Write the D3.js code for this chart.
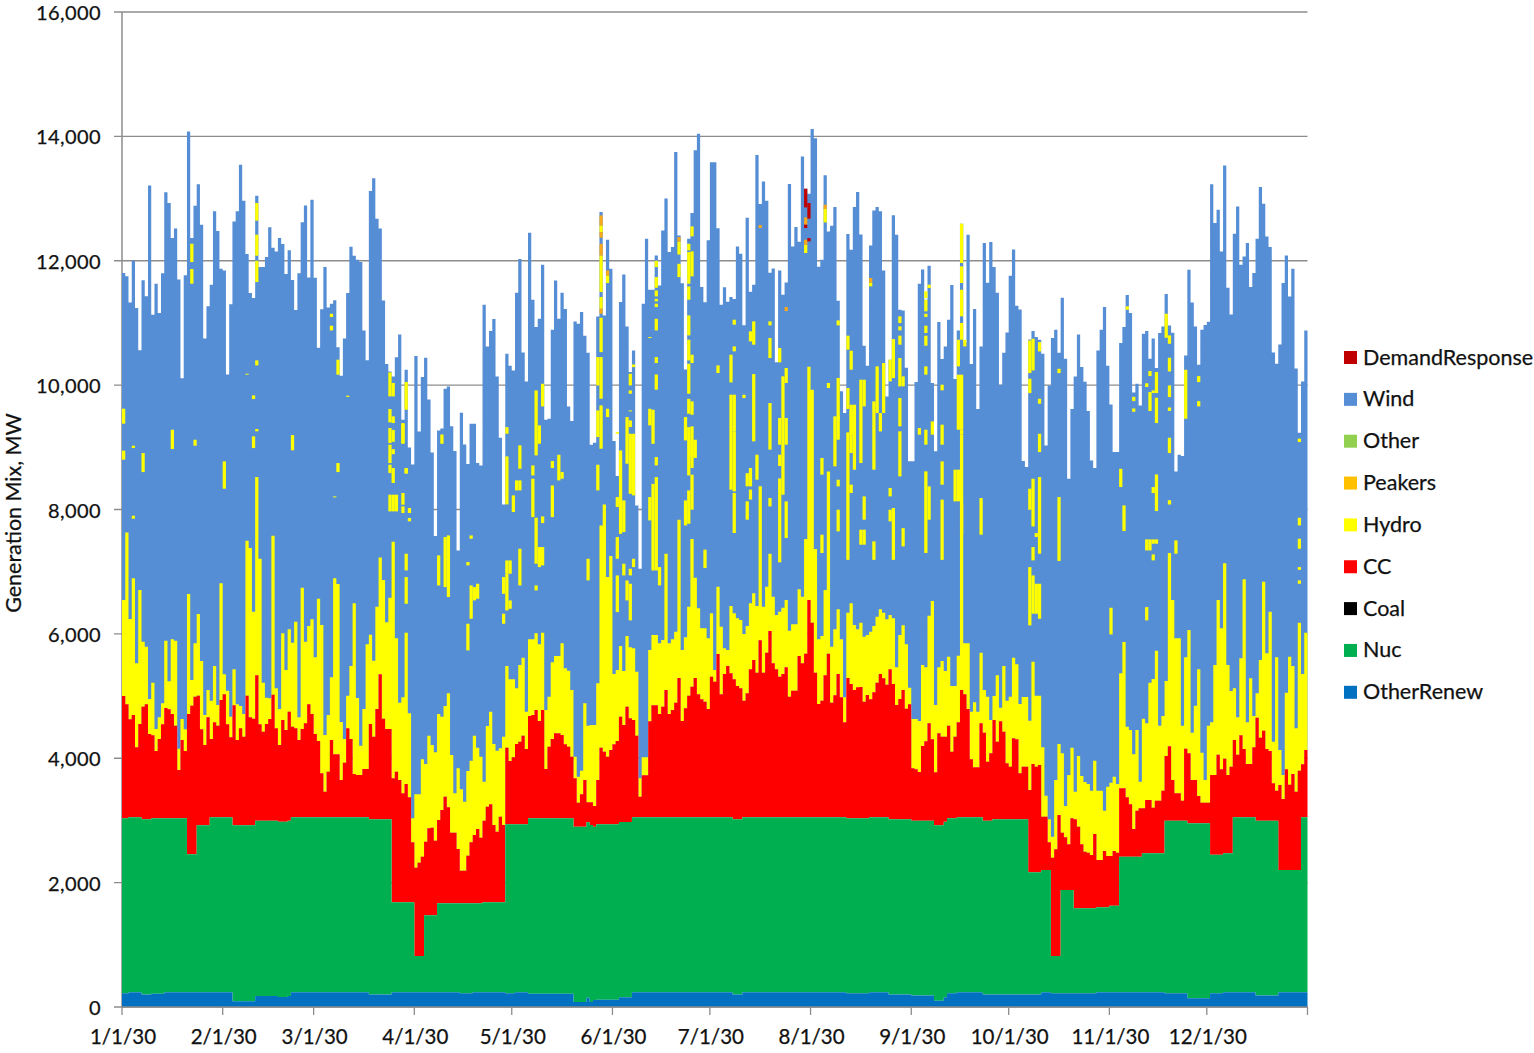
<!DOCTYPE html>
<html><head><meta charset="utf-8">
<script src="https://cdn.jsdelivr.net/npm/d3@7/dist/d3.min.js"></script>
<style>html,body{margin:0;padding:0;background:#fff}svg{display:block}text{font-family:Lato,"Open Sans",sans-serif;fill:#111;stroke:#111;stroke-width:.25px}</style>
</head><body><svg id="c" width="1534" height="1053"></svg>
<script>
const legendNames=["DemandResponse","Wind","Other","Peakers","Hydro","CC","Coal","Nuc","OtherRenew"];
const legendColors=["#C00000","#558ED5","#92D050","#FFC000","#FFFF00","#FF0000","#000000","#00B050","#0070C0"];
const monthTicks=["1/1/30","2/1/30","3/1/30","4/1/30","5/1/30","6/1/30","7/1/30","8/1/30","9/1/30","10/1/30","11/1/30","12/1/30"];
const yTicks=[0,2000,4000,6000,8000,10000,12000,14000,16000];

// Daily cumulative stack tops in MW. Runs: [first day, value]
const otherRenewRuns=[[0,220],[2,236],[6,200],[9,215],[13,236],[34,94],[41,178],[48,160],[51,178],[52,236],[76,200],[83,236],[104,220],[108,236],[118,220],[121,236],[125,215],[139,81],[143,150],[144,81],[145,113],[146,118],[153,156],[157,236],[188,200],[191,236],[223,220],[230,236],[236,200],[243,183],[250,102],[253,156],[254,220],[257,236],[265,200],[283,236],[286,220],[300,236],[321,220],[328,140],[335,220],[339,236],[349,183],[356,236]];
const nucRuns=[[0,3034],[2,3050],[6,3018],[9,3034],[20,2455],[23,2921],[27,3050],[34,2921],[41,2996],[48,2980],[51,2996],[52,3050],[76,3018],[83,1683],[90,820],[93,1474],[97,1667],[111,1683],[118,2938],[125,3034],[139,2900],[143,2970],[144,2927],[145,2900],[146,2938],[153,2975],[157,3050],[188,3018],[191,3050],[223,3034],[230,3050],[236,3018],[243,2996],[250,2921],[253,2980],[254,3034],[257,3050],[265,2996],[268,3018],[279,2166],[283,2203],[286,820],[289,1882],[293,1587],[300,1603],[304,1630],[307,2418],[314,2471],[321,2996],[328,2954],[335,2450],[339,2471],[342,3050],[349,2996],[356,2203],[363,3050]];
const ccTop=[5001,4867,4626,4696,4176,4551,4830,4867,4390,4369,4117,4310,4546,4808,4787,4712,4524,3811,4294,4117,4712,4846,4990,5006,4465,4213,4658,4310,4578,4524,4937,5028,4546,4336,4851,4294,4481,4347,5006,4658,4637,5333,4546,4428,4551,4631,5023,4481,4213,4615,4454,4749,4508,4481,4294,4470,4562,4867,4712,4390,4278,3758,3463,3784,4294,4063,4063,3650,3929,4481,4310,3747,3731,3731,3827,3827,4551,4347,4792,5349,4637,4470,4470,3677,3784,3650,3436,3586,3372,
2648,2241,2321,2418,2659,2873,2884,2675,3007,3168,3382,3211,2804,2804,2541,2192,2192,2434,2648,2766,2863,2723,2996,3222,3259,2927,2820,3061,2927,4170,3956,4015,4229,4267,4363,4149,4680,4696,4776,4599,4776,3827,4186,4310,4401,4401,4374,4224,4186,4026,3677,3286,3420,3650,3291,3291,3232,3650,4170,4106,4026,4133,4224,4278,4669,4535,4830,4642,4615,4363,3382,3725,3725,4594,4851,4851,4712,4830,5098,4712,4776,4894,5291,4599,4803,5006,5151,5291,5028,
4948,4910,4792,5312,5232,5676,5028,5355,5484,5366,5269,5162,5124,4926,5044,5430,5580,5376,5896,5376,5698,6046,5526,5430,5312,5355,5462,4990,5087,5087,5644,5526,5682,6545,6180,5376,4872,4926,5333,5682,4894,5012,5355,4980,4578,5291,5194,5098,5140,5146,4910,5017,4948,5060,5216,5355,5285,5183,5430,5194,4856,4953,5098,4797,4867,3838,3822,3779,4197,4272,4562,4304,3774,4401,4347,4347,4524,4106,4347,4578,5098,5028,4792,3983,3854,3854,4562,4412,3945,
4079,4615,4267,4594,4428,3918,3865,4320,4304,3758,3865,3865,3490,3908,3865,3892,3061,3061,2648,2402,2536,3088,2804,2728,2616,3034,3018,2900,2616,2498,2482,2444,2782,2364,2364,2509,2428,2428,2509,2482,3516,3516,3372,3259,2862,3157,3195,3195,3329,3329,3206,3318,3318,3479,4036,4192,3650,3436,3436,3318,4154,4079,3650,3650,3393,3286,3286,3286,3731,3731,4058,3822,3993,3731,3865,4294,4058,4369,4149,3908,3908,4176,4653,4331,4444,4149,4117,3597,3479,3570,3345,3822,3575,3747,3463,3800,3902,4133];
const hydroTop=[6545,7632,6239,6893,5526,6706,5875,5794,4953,5216,4470,4658,4883,5891,5237,5912,5891,4154,4631,4465,6641,5258,5848,6320,5564,4696,5098,4926,5484,4856,6813,5349,5087,4669,5430,4867,4840,4712,7498,7380,6357,8522,7209,5216,4974,4964,7579,5124,4792,6009,5419,6073,5859,6196,4658,6743,5875,6127,6234,5623,6566,6143,4374,4696,5301,6893,6802,4583,4310,5006,5484,6491,4969,4202,4792,5832,5987,5569,6438,7230,6866,6186,6582,7480,5928,4894,4980,6020,4722,
3034,3420,3420,3983,3908,4363,4213,4095,4712,4669,4840,5044,4052,3436,3838,3500,3302,3795,3961,4363,4170,4026,3624,4519,4749,4229,4122,4160,4347,5484,5269,5269,5124,5500,5618,4749,5912,5912,6009,5832,6020,4776,4990,5542,5644,5644,5848,5446,5408,5098,4026,3704,3800,4883,4524,4535,4535,5205,7744,8082,6913,7251,5355,5419,5805,5403,5966,5784,5768,5392,3677,4015,4015,5741,5982,5982,5848,5902,7288,5848,5912,6036,7835,5741,5944,6438,7525,6904,6411,
6089,6089,5928,6330,5419,6759,6116,5768,5741,6448,6330,6250,6223,5998,6127,6491,6652,6448,8372,6438,6759,7289,6598,6304,6357,6422,6545,6052,6153,6153,6716,6598,7525,10296,9926,7364,5912,5966,6706,8613,5794,6073,6395,5912,4980,6341,6491,6143,6073,6180,5955,5982,6036,6127,6277,6395,6341,6234,6304,6250,5462,5982,6137,5832,5135,4631,4631,4599,5500,5462,6293,6529,4856,5462,5564,5403,5634,5162,5162,5650,9203,5848,5848,4749,4899,4749,5698,5098,4990,
4615,5001,5333,4814,5484,4926,4990,5618,5510,4872,4985,4985,4604,5553,5006,5006,4176,3398,3018,2739,3650,4229,4079,3232,3731,4170,3463,4036,3715,3618,3586,3479,3961,3479,3479,3157,3543,3608,3704,3586,5366,5869,4508,4454,4063,4454,3624,4637,4562,5216,5274,5730,4524,4680,5242,7299,6545,5928,5928,4524,5623,6062,4412,4846,5430,4090,3650,4524,4578,5500,6545,6089,7134,5500,5082,5124,4658,5607,6877,4578,5285,4680,5044,5580,6840,5687,6357,4267,5623,4133,3731,5055,5634,5484,4481,6180,5355,6020];
const totalTop=[11802,11750,11330,12000,11240,10560,11685,11430,13210,11130,11630,11160,11800,13100,12930,12365,12520,11700,10110,11765,14080,12365,12885,13230,12580,10750,11270,11615,12795,12480,11870,11845,10170,11300,12630,12795,13545,12965,12110,11480,11400,13045,11900,11900,12060,12540,12210,12150,12365,12270,11785,12170,11690,11210,11800,12620,12890,11730,12980,11725,10600,11220,11900,11250,11310,11365,10610,10150,10750,11480,12225,12080,12015,11980,10880,10400,13120,13325,12675,12520,11360,10340,10220,10140,10450,10815,
9443,10247,8998,8725,10467,9256,10130,10440,9770,8918,7573,9272,9304,9942,9979,9340,8940,7342,9556,9047,8730,9379,9379,8746,8709,11292,10622,10869,11062,10140,9154,8082,10505,10312,10237,11485,12027,10526,10060,12450,11373,10933,11067,11936,9443,9459,10890,11684,11067,11485,11223,9658,9422,11025,10987,11175,10794,10521,9041,9073,11105,12782,11121,12338,11871,9100,8537,11335,11780,10944,10210,10558,8066,7047,11309,12354,11534,11534,12086,11603,12488,13000,12140,12220,
13750,12407,11640,10250,12354,12767,13775,14043,11577,11331,12328,13582,13582,12521,11293,11572,11341,11416,11384,12231,12113,10961,12692,11502,11615,13700,12912,13276,12966,11808,11877,10366,11845,11454,11652,13234,12231,12542,12306,13678,13158,13078,14118,13968,11904,12017,13373,12472,12564,12864,11358,9900,9550,12430,12178,12864,13105,12424,10634,10312,12247,12810,12864,12794,11845,9819,10409,12730,12419,11213,11202,10280,8774,8774,10050,11631,11861,11374,11920,10034,8935,11015,10420,10623,11052,11609,10098,10880,12596,10688,12419,10339,11224,9615,
10622,12284,11646,12300,11898,11485,10006,10521,10848,11759,12182,11276,11217,8779,8682,10735,10869,10773,10730,10505,9031,9995,10756,10890,10521,11405,10424,8495,9615,10140,10815,10290,10054,9583,8789,8666,10558,10890,11255,10312,9690,8923,8923,10676,10933,11448,11158,9883,10022,9674,10826,10869,10424,10751,10274,10837,10944,11464,10960,10842,8612,8880,8859,10478,11855,11330,10944,10328,10890,10966,11019,13230,12606,12820,12150,13530,11566,11137,12434,12874,11936,12070,12284,11577,11802,12354,13185,12917,12391,12220,10526,10344,10655,11641,12086,11426,11871,10269,9234,10060,10880];

// Hours where hydro / peakers / demand response show above the wind: [day, upper MW, lower MW]
const hydroPatches=[[0,9621,9380],[0,8946,8801],[3,9026,8988],[3,7900,7852],[6,8908,8602],[15,9283,8972],[21,12274,11979],[21,11867,11631],[22,9122,9026],[31,8774,8334],[38,10184,10168],[40,9835,9776],[40,9176,8988],[41,12928,12644],[41,12419,12081],[41,12000,11657],[41,10398,10318],[41,9294,9257],[52,9197,8951],[64,11148,11095],[64,10956,10880],[65,8211,8195],[66,10409,10168],[66,8747,8602],[69,9830,9810],
[82,10205,9819],[82,9615,9401],[82,9310,9069],[82,9042,8747],[82,8720,8586],[82,8238,7970],[83,10035,9819],[83,9498,9390],[83,9280,9090],[83,8970,8890],[83,8667,8426],[83,8238,7970],[84,8238,7970],[86,9390,9069],[86,9379,9057],[86,8265,8077],[86,8050,7943],[87,10049,9604],[87,8655,8575],[87,8667,8586],[87,7289,7021],[87,6913,6484],[88,8024,7943],[88,7863,7810],
[97,7262,6779],[98,9207,9057],[99,7557,6752],[100,7583,6592],[106,7155,7101],[106,6163,5734],[107,7583,7530],[107,6779,6243],[108,6752,6538],[109,6806,6565],[117,6913,6645],[117,6324,6163],[118,9325,9218],[118,8854,8082],[118,7181,6967],[118,6967,6377],[119,7181,6967],[119,6538,6404],[120,8227,7959],[121,8468,8307],[122,9031,8655],[122,8468,8307],[122,7369,6779],[126,8709,8548],[126,8495,7878],[127,9915,8870],[127,7868,7128],[127,6779,6699],[128,9352,9057],[128,7396,7074],[129,10022,9658],[129,7889,7781],[129,7396,7101],[132,8779,8666],[132,8387,7878],[134,8880,8468],[135,8602,8495],[143,7208,6860],
[146,10451,9995],[146,9593,9165],[146,8720,8307],[147,12568,12461],[147,12086,11496],[147,11416,11228],[147,11083,10531],[147,10451,9781],[147,9674,8977],[149,11764,11641],[149,9620,9486],[152,9245,9218],[152,8200,8039],[152,7557,7208],[152,6940,6350],[153,8950,7610],[154,8146,7637],[154,7128,6940],[155,9486,8736],[155,6859,6538],[156,10183,9995],[156,9915,9862],[156,9593,9577],[156,9432,9325],[156,9218,8253],[156,7047,6940],[156,6806,6217],[157,10333,10290],[157,9218,8227],[157,7208,7074],
[162,10773,10757],[162,9620,9352],[162,8200,7825],[163,9604,9057],[163,8412,7020],[164,12000,11898],[164,11737,11566],[164,11523,11426],[164,11389,11346],[164,11309,11255],[164,11067,10880],[164,10451,10355],[164,10171,9926],[164,8843,8709],[164,8521,7020],[165,7074,6779],[171,12310,12100],[171,11951,11737],[173,9486,9111],[173,8146,7744],[174,12273,12166],[174,12139,11630],[174,11587,11373],[174,11121,10800],[174,10730,10397],[174,10344,9861],[174,9780,9540],[174,9325,8548],[174,8307,7771],[175,9111,8843],
[175,12553,12392],[175,12151,11749],[175,10489,10355],[175,9739,9524],[175,9337,8667],[175,8560,7997],[176,9122,8828],[179,7354,7059],[183,10318,10194],[187,10489,10044],[187,9846,8318],[188,11052,10972],[188,10623,10543],[188,9846,9257],[188,9257,8291],[188,8265,7622],[191,9846,9792],[192,8584,8372],[193,10864,10704],[193,8667,8372],[193,8320,8160],[192,8131,7836],[194,11025,10650],[194,10178,9096],[195,8881,8479],[199,10757,10436],[199,9712,8962],[199,8184,8050],[199,11025,10961],[202,10596,10366],[202,9471,9042],[202,8881,8700],[202,8500,7150],[203,10141,8238],[204,10275,10034],[204,9471,9042],[204,8131,7541],[210,12258,12124],[215,8828,8560],[215,7595,7300],[216,12832,12617],
[217,10034,9953],[219,9498,8694],[220,11041,10961],[220,10114,9444],[220,9498,9122],[220,8479,8372],[220,7997,7648],[223,10795,10570],[223,9953,9615],[223,9240,7190],[224,10553,10248],[224,9685,8908],[224,9590,9215],[224,8400,8265],[225,9685,8640],[227,10087,8747],[227,7675,7434],[228,10087,9658],[228,8211,7836],[228,7675,7434],[230,11650,11588],[231,9739,8640],[231,7488,7190],[232,10302,9551],[233,9551,9256],[234,10355,9551],[236,10409,10060],[236,8345,8211],[236,7997,7809],[237,10741,10114],[237,8024,7190],[239,11106,10998],[239,10945,10880],[239,10795,10650],[239,10436,9980],[239,9792,9337],[239,9257,8533],[240,10141,9980],[240,7700,7407],[245,9310,9203],[247,11508,11400],[247,11373,11186],[247,11148,11095],[247,10956,10838],[247,10795,10634],[247,10302,10168],[247,9283,9042],[247,8613,7300],[248,11615,11561],[248,8372,7836],[249,9417,9203],[252,10007,9916],[252,9364,9042],[252,8774,8399],[252,8158,7190],
[256,8640,8131],[257,10730,10302],[257,10168,9283],[258,12596,11963],[258,11910,11642],[258,11534,11106],[258,11000,10730],[258,10168,9283],[258,9283,9203],[259,10730,10623],[257,8640,8131],[258,8100,7600],[264,8184,7595],
[279,10719,10194],[279,10103,9872],[279,8334,7996],[279,7074,6136],[280,10746,10237],[280,8495,7728],[280,7396,7182],[280,6940,6324],[281,7621,7557],[281,6806,6324],[282,10692,10542],[282,9781,9701],[282,9218,8923],[282,8521,7289],[282,6806,6243],[288,10263,10194],[288,8200,7171],[304,6420,5991],[307,8655,8361],[308,8066,7653],[309,11266,11212],[311,9812,9743],[311,9625,9572],[315,10030,9970],[315,7519,7342],[315,6431,6217],[316,10226,10146],[316,9888,9583],[316,7519,7342],[317,9915,9872],[317,8361,8264],[317,7519,7450],[317,7278,7182],[318,10210,9872],[318,9797,9390],[318,8564,7975],[318,7519,7450],[321,11148,10762],[322,10800,10665],[322,10440,10220],[322,9995,9808],[322,9640,9585],[322,9154,8907],[322,8150,8080],[324,7503,7289],[327,10247,9459],[331,10145,10049],[331,9743,9658],[362,9140,9085],[362,7867,7744],[362,7530,7369],[362,7074,7030],[362,6860,6806]];
const peakerPatches=[[147,12729,12568],[147,12461,12370],[147,12273,12086],[147,11228,11148],[149,11844,11764],[171,12380,12310],[196,12574,12526],[204,11256,11191],[210,12697,12579],[210,12338,12258],[216,12901,12832],[230,11722,11650]];
const demandPatches=[[210,13158,12858],[210,12580,12526],[211,12928,12676],[211,12365,12312]];

const expandRuns=runs=>{const out=[];runs.forEach(([s,v],i)=>{const e=i+1<runs.length?runs[i+1][0]:365;for(let d=s;d<e;d++)out.push(v);});return out;};
const otherRenewTop=expandRuns(otherRenewRuns), nucTop=expandRuns(nucRuns);
const firstDay=Date.UTC(2030,0,1), dayMs=864e5;
const dateOf=d=>new Date(firstDay+d*dayMs);

const svg=d3.select("#c");
const x=d3.scaleUtc().domain([dateOf(0),dateOf(365)]).range([122,1307.5]);
const y=d3.scaleLinear().domain([0,16000]).range([1007,12]);
const axisGray="#8c8c8c";

svg.append("g").selectAll("line").data(yTicks).join("line")
 .attr("x1",114).attr("x2",1307.5).attr("y1",d=>y(d)).attr("y2",d=>y(d)).attr("stroke",axisGray).attr("stroke-width",1.3);
svg.append("line").attr("x1",122).attr("x2",122).attr("y1",y(16000)).attr("y2",y(0)).attr("stroke",axisGray).attr("stroke-width",1.5);

const layers=[
 {c:legendColors[1],lo:ccTop,hi:totalTop},
 {c:legendColors[4],lo:ccTop,hi:hydroTop},
 {c:legendColors[5],lo:nucTop,hi:ccTop},
 {c:legendColors[7],lo:otherRenewTop,hi:nucTop},
 {c:legendColors[8],lo:otherRenewTop.map(()=>0),hi:otherRenewTop}
];
const days=d3.range(366);
const plot=svg.append("g");
layers.forEach(L=>{
 const at=(a,d)=>a[Math.min(d,a.length-1)];
 const area=d3.area().curve(d3.curveStepAfter).x(d=>x(dateOf(d))).y0(d=>y(at(L.lo,d))).y1(d=>y(at(L.hi,d)));
 plot.append("path").attr("d",area(days)).attr("fill",L.c);
});
const patches=(list,color)=>plot.append("g").selectAll("rect").data(list).join("rect")
 .attr("x",d=>x(dateOf(d[0]))).attr("width",d=>x(dateOf(d[0]+1))-x(dateOf(d[0])))
 .attr("y",d=>y(d[1])).attr("height",d=>y(d[2])-y(d[1])).attr("fill",color);
patches(hydroPatches,legendColors[4]);
patches(peakerPatches,"#F7A81B");
patches(demandPatches,legendColors[0]);

const tickDates=d3.utcMonth.range(dateOf(0),dateOf(365)).concat([dateOf(365)]);
svg.append("line").attr("x1",122).attr("x2",1307.5).attr("y1",y(0)).attr("y2",y(0)).attr("stroke",axisGray).attr("stroke-width",1.5);
svg.append("g").selectAll("line").data(tickDates).join("line")
 .attr("x1",d=>x(d)).attr("x2",d=>x(d)).attr("y1",1007).attr("y2",1015).attr("stroke",axisGray).attr("stroke-width",1.3);
svg.append("g").selectAll("text").data(monthTicks).join("text")
 .attr("x",(d,i)=>x(tickDates[i])+1).attr("y",1044).attr("text-anchor","middle").attr("font-size",20.5).text(d=>d);

svg.append("g").selectAll("text").data(yTicks).join("text")
 .attr("x",101).attr("y",d=>y(d)+8).attr("text-anchor","end").attr("font-size",20).attr("letter-spacing",.4).text(d3.format(","));
svg.append("text").attr("transform","translate(21,513) rotate(-90)").attr("text-anchor","middle")
 .attr("font-size",21.5).text("Generation Mix, MW");

const lg=svg.append("g").selectAll("g").data(legendNames).join("g")
 .attr("transform",(d,i)=>`translate(1344,${357.5+i*41.85})`);
lg.append("rect").attr("x",0).attr("y",-6.5).attr("width",13).attr("height",13).attr("fill",(d,i)=>legendColors[i]);
lg.append("text").attr("x",19).attr("y",7).attr("font-size",21.5).text(d=>d);
</script></body></html>
